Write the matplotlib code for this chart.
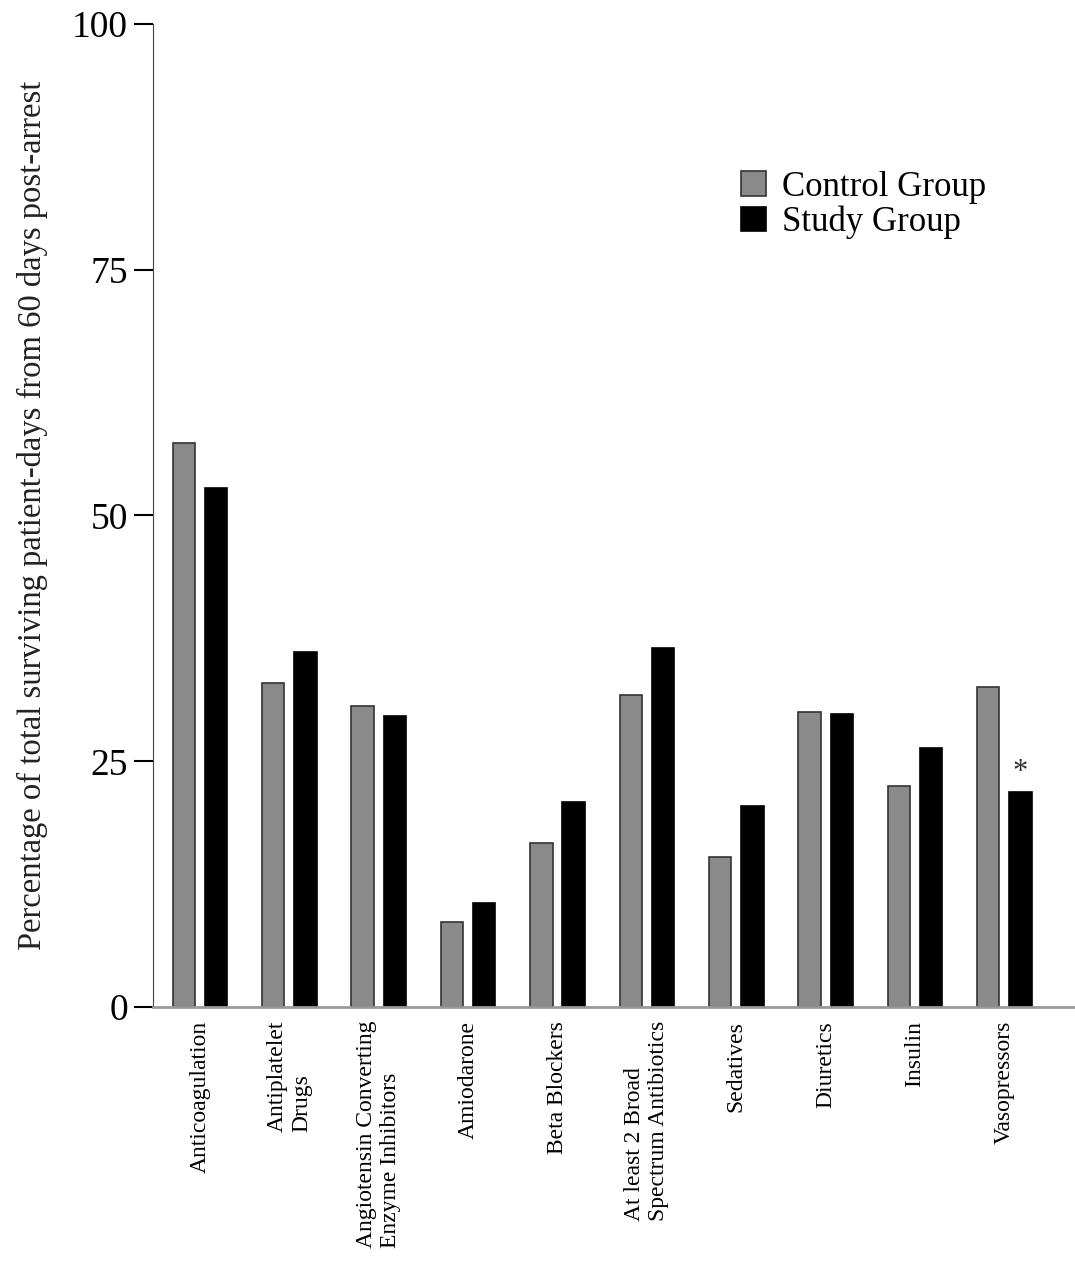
import numpy as np
import matplotlib.pyplot as plt

plt.rcParams['font.family'] = ['Liberation Serif', 'DejaVu Serif']

drugs = ["Anticoagulation", "Antiplatelet\nDrugs", "Angiotensin Converting\nEnzyme Inhibitors",
         "Amiodarone", "Beta Blockers", "At least 2 Broad\nSpectrum Antibiotics",
         "Sedatives", "Diuretics", "Insulin", "Vasopressors"]
control = [57.4, 33.0, 30.6, 8.7, 16.7, 31.7, 15.3, 30.0, 22.5, 32.6]
study = [52.8, 36.1, 29.6, 10.6, 20.9, 36.5, 20.4, 29.8, 26.3, 21.9]
significant = ["Vasopressors"]

fig = plt.figure(figsize=(10.75, 12.61), dpi=100)
ax = fig.add_axes([0.1423, 0.2014, 0.8577, 0.7796])

x = np.arange(len(drugs))
width = 0.25
off = 0.18
ax.bar(x - off, control, width, color='#8a8a8a', edgecolor='#333333', linewidth=1.2,
       label='Control Group')
ax.bar(x + off, study, width, color='black', edgecolor='black', linewidth=1.2,
       label='Study Group')

# mark significant differences above the study bar
for i, name in enumerate(drugs):
    if name in significant:
        ax.text(x[i] + off, study[i] + 0.5, '*', ha='center', va='bottom', fontsize=22,
                color='#333333')

ax.set_xlim(-0.526, 9.79)
ax.set_ylim(0, 100)
ax.set_yticks([0, 25, 50, 75, 100])
ax.tick_params(axis='y', labelsize=27, length=14, width=1.5, direction='out', pad=4)
ax.set_xticks(x)
ax.set_xticklabels(drugs, rotation=90, fontsize=17, va='top', ha='center',
                   multialignment='left')
ax.tick_params(axis='x', length=0, pad=10)

ax.spines['top'].set_visible(False)
ax.spines['right'].set_visible(False)
ax.spines['left'].set_color('#444444')
ax.spines['bottom'].set_color('#999999')
ax.spines['bottom'].set_linewidth(2)

ax.set_ylabel('Percentage of total surviving patient-days from 60 days post-arrest',
              fontsize=23.5, color='#222222', labelpad=17)

ax.legend(loc='upper left', bbox_to_anchor=(0.623, 0.865), frameon=False, fontsize=25,
          handlelength=0.72, handleheight=0.72, handletextpad=0.45, labelspacing=0.06,
          borderaxespad=0)

fig.savefig('out.png', dpi=100)
